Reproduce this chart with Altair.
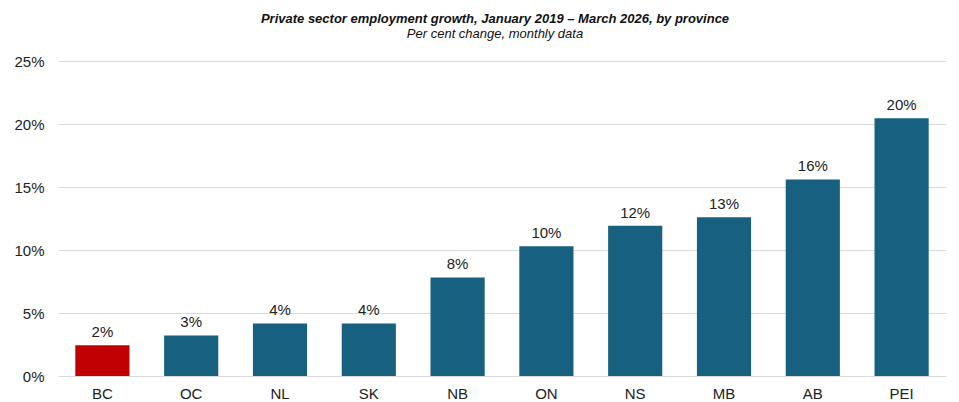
import altair as alt
import pandas as pd

provinces = ["BC", "OC", "NL", "SK", "NB", "ON", "NS", "MB", "AB", "PEI"]
growth = [0.0245, 0.0322, 0.0417, 0.0417, 0.0782, 0.1030, 0.1193, 0.1260, 0.1560, 0.2045]
highlight = ["BC", "Other", "Other", "Other", "Other", "Other", "Other", "Other", "Other", "Other"]
y_ticks = [0, 0.05, 0.10, 0.15, 0.20, 0.25]

df = pd.DataFrame({"province": provinces, "growth": growth, "group": highlight})

FONT = "Liberation Sans"

x = alt.X("province:N", sort=provinces, title=None,
          scale=alt.Scale(paddingInner=0.39, paddingOuter=0.195),
          axis=alt.Axis(labelAngle=0, labelFontSize=15, labelColor="#222222", labelFont=FONT,
                        domain=False, ticks=False, labelPadding=10, grid=False))
y = alt.Y("growth:Q", title=None,
          scale=alt.Scale(domain=[0, 0.25], nice=False),
          axis=alt.Axis(values=y_ticks, format=".0%", labelFontSize=15, labelColor="#222222",
                        labelFont=FONT, domain=False, ticks=False, labelPadding=14,
                        grid=True, gridColor="#D9D9D9", gridWidth=1))

bars = alt.Chart(df).mark_bar().encode(
    x=x, y=y,
    color=alt.Color("group:N", scale=alt.Scale(domain=["BC", "Other"], range=["#C00000", "#17607F"]), legend=None),
)

labels = alt.Chart(df).mark_text(baseline="bottom", dy=-5, fontSize=15, font=FONT, color="#222222").encode(
    x=alt.X("province:N", sort=provinces),
    y="growth:Q",
    text=alt.Text("growth:Q", format=".0%"),
)

chart = (bars + labels).properties(
    width=888, height=315,
    autosize=alt.AutoSizeParams(type="none"),
    padding={"left": 50, "top": 53, "right": 5, "bottom": 30},
    title=alt.TitleParams(
        text="Private sector employment growth, January 2019 \u2013 March 2026, by province",
        subtitle="Per cent change, monthly data",
        anchor="middle", dx=-7, offset=13,
        font=FONT, fontSize=13, fontStyle="italic", fontWeight="bold", color="#111111",
        subtitleFont=FONT, subtitleFontSize=13, subtitleFontStyle="italic", subtitleColor="#111111",
        subtitlePadding=2,
    ),
).configure(background="white").configure_view(stroke=None)

chart.save("out.html", embed_options={"renderer": "svg", "actions": False})
